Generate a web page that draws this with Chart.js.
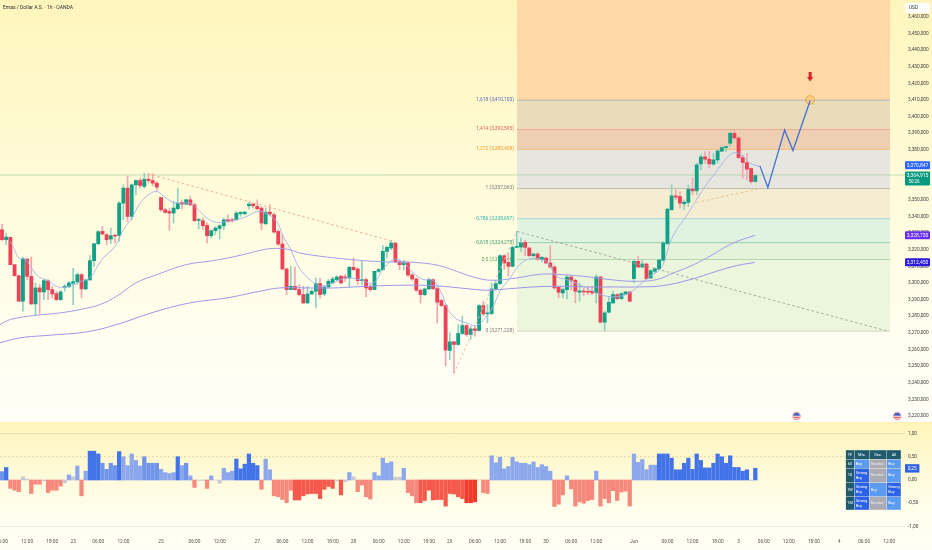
<!DOCTYPE html>
<html><head><meta charset="utf-8">
<style>
html,body{margin:0;padding:0;width:932px;height:550px;overflow:hidden;background:#fffff8}
#p{position:absolute;left:0;top:0;width:932px;height:421px;background:linear-gradient(#FFF5BC 0%,#FFFBD8 42%,#FFFEF0 80%,#FFFFF8 100%)}
#o{position:absolute;left:0;top:422px;width:932px;height:128px;background:linear-gradient(#FFF5BA 0%,#FFF8CE 25%,#FFFDEB 65%,#FFFFF6 100%)}
canvas{display:block}
</style>
<script src="https://cdn.jsdelivr.net/npm/chart.js@4"></script>
</head><body>
<div id="p"><canvas id="cp" width="932" height="421"></canvas></div>
<div id="o"><canvas id="co" width="932" height="128"></canvas></div>
<script>
const opens=[3332,3326,3327.4,3311,3304.4,3289,3314.4,3304,3287.4,3297,
3294.6,3301.4,3296,3293.6,3290,3297.4,3297.6,3299.8,3300.8,3305,
3296.4,3301.8,3313.4,3323.6,3331,3329,3326.4,3328.6,3328.6,3348,
3357,3340,3359,3361.6,3358,3362.4,3361.6,3360,3351.4,3344,
3343,3342,3344.6,3348.4,3347.4,3350,3347,3337.6,3337.4,3334.6,
3328.4,3331.4,3332.8,3334.4,3338,3338,3338,3341.6,3341.6,3346.4,
3347.4,3346,3345,3335.6,3342.6,3341,3331,3323.4,3308.4,3296,
3298,3296,3293,3288,3293.4,3295,3299.6,3293.4,3297.6,3300,
3302,3304,3303.6,3303,3309.4,3308.4,3301.4,3302,3297.6,3296,
3307,3308,3319,3321,3324,3312.6,3311,3312,3304.8,3302.4,
3295.6,3293,3296.4,3302,3296.6,3289.4,3286.4,3259.4,3264.6,3263,
3269.6,3274.4,3269,3272.4,3271.4,3286.4,3281.4,3281.6,3296.4,3299.6,
3316.4,3312.4,3310,3321.4,3321.6,3324.4,3321,3316.4,3317.4,3314,
3315,3312,3309.6,3297.4,3294,3296,3303.6,3301.6,3294.4,3295,
3295,3295,3294,3303.6,3276.4,3282.4,3288,3293,3290.6,3293.4,
3294.6,3302.6,3313,3309.6,3311.4,3303,3307,3308.4,3313.6,3323.6,
3344,3352.4,3352,3347.6,3348.4,3356.4,3355.4,3371.6,3375.8,3374.4,
3371.4,3374,3379.2,3381.4,3384,3390,3387.2,3375.4,3372.4,3368.8,3361];
const closes=[3326,3327.6,3311,3304.4,3289,3314.4,3304,3287.4,3297,3294.6,
3301.4,3296,3293.4,3290,3294.6,3298,3300,3300.8,3305,3296.4,
3301.8,3313.4,3323.6,3330.8,3329.4,3326,3328.4,3328.2,3348,3357,
3340,3359,3361.6,3358.6,3362.4,3361.6,3360,3357.6,3344,3342.4,
3342,3345,3348,3347.4,3350,3347,3337.4,3338,3334.4,3328.4,
3331.4,3333,3334.4,3338,3337,3337.4,3342,3342.4,3342.6,3347.4,
3346.4,3344.6,3336,3342.6,3341.4,3330.6,3323.4,3308.4,3296,3298,
3296,3293,3288,3293.4,3295,3299.6,3293,3297.6,3301,3302.4,
3303.6,3300,3303,3309.4,3308,3301.4,3302,3297,3296,3307,
3308,3319,3321.4,3324,3312.6,3311,3312.6,3304.8,3302.4,3295.6,
3293,3296.4,3302,3296.6,3288.4,3286.4,3259.6,3264.6,3263,3269.6,
3274.4,3269,3272.4,3271.4,3286.4,3281.4,3282,3296.4,3299.6,3316.4,
3312,3310,3321.4,3322,3324,3321.4,3316.4,3317.4,3314.4,3315.4,
3312,3309.6,3297,3294.4,3296,3303.6,3301.6,3295,3295.2,3294.6,
3294.4,3294,3303.6,3276.4,3282,3288.4,3293,3290.6,3293.6,3294.6,
3289,3313,3309.6,3311.4,3302.6,3307.4,3308.6,3313.8,3324,3344.4,
3352.4,3351.6,3348,3348.6,3356.4,3355.4,3371,3375.8,3374.4,3371.6,
3374,3379.4,3381.4,3381.6,3390,3387.2,3375.4,3372.4,3368.4,3361,3364.6];
const highs=[3335.4,3330,3327.6,3311,3304.4,3315.6,3314.4,3315.6,3300,3299,
3302.4,3302,3298,3295,3295.4,3299,3301,3308.8,3306,3305.6,
3302.4,3316.4,3323.6,3331.6,3334,3330,3333,3329,3349,3359,
3364.4,3359.6,3362,3363,3366,3365.6,3365.6,3361,3351.4,3345,
3345,3349,3357,3350,3350.4,3352,3348,3339,3339,3336,
3332,3334,3335,3339,3341,3339,3343,3343,3343,3348.4,
3348,3350,3346,3345,3347,3342,3332,3329,3309,3310,
3309.6,3299,3298,3298,3296,3303,3303,3298.4,3302,3303.6,
3304.4,3304.8,3305,3310,3315,3309,3313,3303,3299,3307,
3308.8,3322.4,3322.4,3325.6,3324.4,3314,3313.6,3313,3305.6,3303,
3296.4,3297,3303,3302.4,3297.6,3290.4,3287,3270,3265,3275,
3280,3275,3274,3274,3287,3289,3287,3300,3301,3317,
3317,3318,3322,3331,3327,3325.6,3321.6,3318,3318.4,3316,
3315.6,3322.4,3310.4,3298,3297,3304.4,3304.4,3302.4,3300,3297,
3297.6,3298,3305,3304,3283,3292,3295,3293.6,3294,3295,
3295,3314,3316,3314,3312,3308,3309,3314,3325,3345,
3359,3356,3355,3350,3359,3363,3372,3377,3379,3379,
3378,3380,3382,3382,3391,3392,3388,3377,3378,3369,3365];
const lows=[3325.6,3323,3311,3304,3289,3283,3302,3287,3280.4,3281.6,
3290,3290,3291,3289.4,3289.4,3295,3297.6,3287,3299,3291,
3296,3301.8,3310,3323,3329,3323,3323.6,3324,3325,3338,
3337,3338,3353,3357,3357,3360,3358.4,3355.6,3343,3342,
3331.6,3336,3344.4,3344.4,3347,3346.4,3337,3332.4,3332,3324,
3327,3329,3326.4,3332,3336.4,3336.4,3337.6,3340,3341,3344.4,
3345,3344,3332,3335,3340.4,3330,3322.4,3308,3293,3296,
3295.6,3292.4,3287.6,3287.6,3293,3285,3291,3292.4,3297,3299.6,
3301,3299.6,3301,3297.6,3307.6,3299,3299,3291.6,3295,3296,
3306.4,3307.6,3315,3320,3312.4,3308,3308,3304,3301.6,3295,
3288,3292.4,3296,3296,3276,3285.6,3250,3254,3245.6,3262.4,
3269,3268,3266,3268,3271,3280,3276,3281,3296,3299,
3308,3304,3309.6,3321,3319,3316.4,3315.6,3315.6,3313.6,3313,
3311.4,3309,3296.4,3291,3291,3290.4,3296,3288,3289,3292.4,
3293,3293,3288,3276,3271,3282,3287.6,3290,3290,3293,
3288.6,3300,3309,3309,3302,3302.6,3306,3308,3313,3323,
3343.6,3350,3345,3344,3346,3353,3353,3368,3372,3369,
3371,3372,3379,3379,3382,3386,3375,3363,3362,3360,3360.5];

const emaFastIdx=[2,3,4,5.5,7,9,11,13,15,17,19,21,22.6,24.2,27,29,31,33,35,37,38.5,41,43,45,46.5,49,51.3,53.7,56,58.5,61,63,65.6,67.2,69,71,73.6,76,79,82.3,85.5,88.7,91,93.5,95.9,98.3,100.7,103,105,106.6,108.6,111,113.4,115.8,117.4,119,121.4,123.7,126,128.5,130.5,132.5,134.9,138,141.2,144.5,147.7,150,152.4,154.8,157.2,158.4,159.6,161.2,163.2,165.2,168,170.7,173.1,175.1,177.1,178.7,181.1];
const emaFastVals=[3325,3320,3315,3314.4,3309,3303.4,3301.4,3298,3297.4,3299,3301,3303,3309,3315,3322,3332,3339,3348,3353,3355,3352.4,3348.4,3348,3348,3345,3339,3336.4,3337,3338,3340,3343,3342,3337,3328,3320,3309,3302,3298,3300,3303,3302,3300,3308,3314,3312.4,3306,3302,3301.6,3294,3284,3278.4,3276,3274.4,3280,3286,3295,3303,3311,3314.4,3314.4,3312,3304,3302,3299,3295,3292,3292,3294,3299,3304,3308,3314,3324,3332,3339,3347,3358,3367,3375,3378.4,3376,3372,3370];
const ema50Idx=[-0.5,2,7.5,13.9,19.4,23.4,27.4,32,37,44,50.5,56.9,62.4,65.6,68.8,71.2,77.6,85.5,92.7,98.3,104.2,108.6,113.4,117.4,122.9,128.5,132.5,138.9,145.3,150.8,156.4,160.4,164.4,168.4,174.7,179.9];
const ema50Vals=[3275,3278,3280.4,3282,3284.4,3287,3292,3300,3305,3311,3313.4,3316.6,3320,3320.8,3320,3318,3315.6,3313.6,3312.6,3312.4,3310.6,3307,3303,3301.6,3303,3305.2,3305.2,3304,3302,3301,3302,3306,3310,3315,3324,3328.6];
const ema100Idx=[-0.5,4.3,11.5,20.2,27.4,36.2,44.9,53.7,61.6,66.4,73.6,79.2,87.1,95,103,109.4,115.8,120.6,126.9,133.3,140.5,145.3,152.4,158,164.4,170.7,175.5,179.9];
const ema100Vals=[3264,3267,3268.6,3270.6,3275,3282.4,3288,3291,3295,3297,3297,3297,3298,3298.6,3298.4,3297,3295.6,3296.4,3297.6,3298,3297.6,3297.6,3297.6,3298.4,3302,3307,3310.4,3312.4];

const fibRatios=['1,618','1,414','1,272','1','0,786','0,618','0,5','0'];
const fibPrices=[3410.103,3392.595,3380.408,3357.063,3338.697,3324.278,3314.146,3271.228];
const fibStartIdx=123.06, fibEndIdx=212.2;
const projIdx=[181.1,183,187,189,193.1];
const projVals=[3370.4,3357.4,3392,3379.6,3409.6];
const trendAIdx=[34.9,93.4], trendAVals=[3365.6,3325];
const trendBIdx=[108,123.06], trendBVals=[3245.6,3331];
const trendCIdx=[123.06,211.7], trendCVals=[3331,3271];
const trendDIdx=[166,181.5], trendDVals=[3348.4,3357];
const lastPrice=3364.915;
const targetIdx=193.1, targetPrice=3410;
const priceTicks=[3220,3230,3240,3250,3260,3270,3280,3290,3300,3310,3320,3330,3340,3350,3360,3370,3380,3390,3400,3410,3420,3430,3440,3450,3460];
const tagPrices=[3370.847,3328.730,3312.450];
const tagTexts=['3,370,847','3,328,730','3,312,450'];
const oscVals=[.18,.27,-.18,-.22,-.25,.07,.02,-.29,-.09,-.09,
-.02,-.27,-.22,-.22,-.13,-.06,.11,.07,.3,-.34,
.19,.62,.62,.56,.36,.23,.36,.31,.61,.5,
.31,.56,.42,.3,.5,.36,.36,.36,.23,.16,
.14,.16,.5,.31,.36,.09,-.16,-.01,-.01,-.18,
.09,0,-.07,.25,.16,.19,.45,.24,.34,.56,
.36,.31,-.2,.45,.22,-.34,-.36,-.42,-.49,-.22,
-.43,-.43,-.34,-.3,-.29,-.29,-.4,-.2,-.14,-.18,
-.02,-.32,-.04,.16,.07,-.25,-.11,-.36,-.41,.16,
.09,.47,.36,.39,.06,.06,.25,-.27,-.34,-.49,
-.49,-.44,-.22,-.43,-.42,-.42,-.56,-.29,-.3,-.36,
-.4,-.49,-.49,-.47,0,-.27,-.29,.52,.37,.49,
.24,.29,.49,.39,.36,.36,.33,.39,.27,.33,
.29,.19,-.57,-.52,-.32,.09,-.19,-.56,-.47,-.5,
-.44,-.42,.19,-.56,-.4,-.49,-.23,-.44,-.26,-.24,
-.56,.56,.38,.44,.22,.32,.32,.56,.56,.56,
.47,.22,.22,.36,.47,.23,.56,.42,.26,.26,
.36,.56,.5,.36,.52,.27,.27,.19,.22,-.01,.25];
const oscShadeStarts=[0,1,2,21,24,28,29,34,38,42,43,44,45,56,62,70,82,100,111,114,157];
const oscShadeLevels=[2,3,1,3,2,3,1,2,1,3,1,2,1,3,1,2,1,2,3,1,3];
const oscTicks=[1,.5,0,-.5,-1];
const oscLevels=[1,.5,-1];
const oscLast=.25;
const timeTickIdx=[0,6,12,17,23,29,38,46,52,61,67,73,79,84,90,96,102,107,113,119,125,130,136,142,151,159,165,171,176,182,188,194,200,206,212];
const timeTickLabels=['06:00','12:00','18:00','23','06:00','12:00','25','06:00','12:00','27','06:00','12:00','18:00','28','06:00','12:00','18:00','29','06:00','12:00','18:00','30','06:00','12:00','Jun','06:00','12:00','18:00','3','06:00','12:00','18:00','4','06:00','12:00'];
const tableHead=['TF','Mtx.','Osc.','All'];
const tableRowLabels=['60','1D','1W','1M'];
const tableMtx=['Buy','Strong Buy','Strong Buy','Strong Buy'];
const tableOsc=['Neutral','Neutral','Buy','Neutral'];
const tableAll=['Buy','Buy','Strong Buy','Buy'];
const eventIdx=[190,214];

const X_MIN=-0.478,X_MAX=215.77;
const FONT='Roboto, "Liberation Sans", sans-serif';
const line=(xs,ys,o)=>Object.assign({type:'line',data:xs.map((x,i)=>({x,y:ys[i]})),pointRadius:0,borderWidth:1,fill:false,order:2},o);
const fixAxis=w=>s=>{s.width=w;s.paddingTop=0;s.paddingBottom=0;s.paddingLeft=0;s.paddingRight=0;};

const UP='#12A086',DOWN='#EC4256',UPW='#8FD3C0',DOWNW='#F4A6AE';
const wickData=highs.map((h,i)=>({x:i,y:[lows[i],h]}));
const bodyData=opens.map((o,i)=>({x:i,y:[o,closes[i]]}));
const isUp=i=>closes[i]>=opens[i];
const P_TOP=3470.13,P_BOT=3217;
const zoneColors=['#FFD8A8','#E9DDB9','#EFCFB2','#E6E6DE','#F5EDD2','#E0F3E0','#E4F3D9','#EBF6DC'];
const fibLine=['#7E8BC0','#E67A74','#F2A648','#9A9A8C','#62C6C6','#5DAF86','#7DB877','#A9A99C'];
const fibText=['#5468B8','#E4605C','#EE9C2C','#777','#35B5B5','#3E9E70','#5AA55A','#777'];
const fibBounds=[P_TOP].concat(fibPrices);
const fibSets=fibBounds.map((p,k)=>{
  const isLast=k===fibBounds.length-1;
  return {type:'line',data:[{x:fibStartIdx,y:p},{x:fibEndIdx,y:p}],pointRadius:0,
    borderWidth:k===0?0:1,borderColor:k===0?'transparent':fibLine[k-1],
    fill:isLast?false:'+1',backgroundColor:isLast?'transparent':zoneColors[k],order:9};
});

function rr(c,x,y,w,h,r){c.beginPath();c.roundRect(x,y,w,h,r);c.fill();}
const pricePlugin={id:'pricePlugin',
 beforeDatasetsDraw(ch){
  const c=ch.ctx,xs=ch.scales.x,ys=ch.scales.y;
  c.save();c.font='4.9px '+FONT;c.textAlign='right';c.textBaseline='middle';
  fibPrices.forEach((p,i)=>{
   c.fillStyle=fibText[i];
   const s=p.toFixed(3).replace('.',',');
   const t=fibRatios[i]+' ('+s.slice(0,1)+','+s.slice(1)+')';
   c.fillText(t,xs.getPixelForValue(fibStartIdx)-3,ys.getPixelForValue(p));
  });
  c.restore();
 },
 afterDraw(ch){
  const c=ch.ctx,xs=ch.scales.x,ys=ch.scales.y;
  c.save();
  c.font='5px '+FONT;c.fillStyle='#2e2e2e';c.textAlign='left';c.textBaseline='middle';
  c.fillText('Emas / Dollar A.S. · 1h · OANDA',3,7.5);
  c.fillStyle='#fff';rr(c,905,3,25,10,1.5);
  c.fillStyle='#333';c.font='4.8px '+FONT;c.fillText('USD',909,8);
  const colors=['#2962FF','#6A2CEE','#2A1ADD'];
  c.textAlign='center';
  tagPrices.forEach((p,i)=>{
   const y=ys.getPixelForValue(p);
   c.fillStyle=colors[i];rr(c,905,y-4,25,8,1);
   c.fillStyle='#fff';c.font='5px '+FONT;c.fillText(tagTexts[i],917.5,y+.3);
  });
  const yl=ys.getPixelForValue(lastPrice);
  c.fillStyle='#089981';rr(c,905,yl-3.5,25,14,1);
  c.fillStyle='#fff';c.font='5px '+FONT;c.fillText('3,364,915',917.5,yl+.3);
  c.font='4.5px '+FONT;c.fillText('50:26',914,yl+6.5);
  const ax=xs.getPixelForValue(targetIdx),ay=ys.getPixelForValue(targetPrice);
  c.fillStyle='#D5262C';c.beginPath();
  c.moveTo(ax-1.5,ay-28);c.lineTo(ax+1.5,ay-28);c.lineTo(ax+1.5,ay-23);c.lineTo(ax+3.2,ay-23);
  c.lineTo(ax,ay-18.5);c.lineTo(ax-3.2,ay-23);c.lineTo(ax-1.5,ay-23);c.closePath();c.fill();
  eventIdx.forEach(ei=>{
   const fx=xs.getPixelForValue(ei)+(ei===190?-0.6:-0.4),fy=416;
   c.fillStyle='#F4A0A8';c.beginPath();c.arc(fx,fy,4.3,0,Math.PI*2);c.fill();
   c.save();c.beginPath();c.arc(fx,fy,3.3,0,Math.PI*2);c.clip();
   c.fillStyle='#fff';c.fillRect(fx-4,fy-4,8,8);
   c.fillStyle='#E8505A';c.fillRect(fx-4,fy+.7,8,1.2);c.fillRect(fx-4,fy+2.6,8,1.2);
   c.fillStyle='#4466C8';c.fillRect(fx-4,fy-4,8,3.8);c.restore();
  });
  c.restore();
 }};

new Chart(document.getElementById('cp'),{
 type:'bar',
 data:{datasets:[
  line(trendAIdx,trendAVals,{borderColor:'#EDAE94',borderDash:[2.5,2.5],order:3}),
  line(trendBIdx,trendBVals,{borderColor:'#E8B8A0',borderDash:[2.5,2.5],order:3}),
  line(trendCIdx,trendCVals,{borderColor:'#A8A89C',borderDash:[2.5,2.5],order:3}),
  line(trendDIdx,trendDVals,{borderColor:'#E8C08C',borderDash:[2.5,2.5],order:3}),
  line([X_MIN,X_MAX],[lastPrice,lastPrice],{borderColor:'rgba(150,200,150,.6)',order:8}),
  line(emaFastIdx,emaFastVals,{borderColor:'#A3B2EA',borderWidth:.9,tension:.4,order:1}),
  line(ema50Idx,ema50Vals,{borderColor:'#A39BEA',borderWidth:1,tension:.4,order:1}),
  line(ema100Idx,ema100Vals,{borderColor:'#9D94EA',borderWidth:1,tension:.4,order:1}),
  line(projIdx,projVals,{borderColor:'#3F73D8',borderWidth:1.3,order:0}),
  {type:'line',data:[{x:targetIdx,y:targetPrice}],pointRadius:4.3,pointBackgroundColor:'rgba(255,190,90,.35)',pointBorderColor:'#F3A52B',pointBorderWidth:1,showLine:false,order:0},
  {type:'bar',data:bodyData,grouped:false,barThickness:3.2,minBarLength:1,borderWidth:0,backgroundColor:opens.map((o,i)=>isUp(i)?UP:DOWN),order:4},
  {type:'bar',data:wickData,grouped:false,barThickness:1,borderWidth:0,backgroundColor:opens.map((o,i)=>isUp(i)?UPW:DOWNW),order:5},
  ...fibSets
 ]},
 plugins:[pricePlugin],
 options:{responsive:false,animation:false,devicePixelRatio:1,
  layout:{padding:0,autoPadding:false},
  plugins:{legend:{display:false},tooltip:{enabled:false}},
  scales:{
   x:{type:'linear',min:X_MIN,max:X_MAX,offset:false,display:false},
   y:{position:'right',min:P_BOT,max:P_TOP,grid:{display:false,drawTicks:false},border:{display:false},
    afterBuildTicks:s=>{s.ticks=priceTicks.map(v=>({value:v}));},
    afterFit:fixAxis(27),
    ticks:{padding:3,autoSkip:false,color:'#444',font:{size:4.8,family:FONT},
     callback:v=>String(v).slice(0,1)+','+String(v).slice(1)+',000'}}
  }}
});

function shadeLevel(i){let l=1;oscShadeStarts.forEach((s,k)=>{if(i>=s)l=oscShadeLevels[k];});return l;}
const BLUES=['','#8CA7EC','#7094EA','#4273E8'],REDS=['','#F6897D','#F4594B','#F23A2C'];
const oscColors=oscVals.map((v,i)=>Math.abs(v)<.09?'#C9CAD3':(v>0?BLUES:REDS)[shadeLevel(i)]);
const oscPlugin={id:'oscPlugin',
 afterDraw(ch){
  const c=ch.ctx,ys=ch.scales.y;
  c.save();
  const yt=ys.getPixelForValue(oscLast);
  c.fillStyle='#2F62E0';c.fillRect(905,yt-4.2,14.4,8.4);
  c.fillStyle='#fff';c.font='4.8px '+FONT;c.textAlign='center';c.textBaseline='middle';
  c.fillText(oscLast.toFixed(2).replace('.',','),912.2,yt+.3);
  const colX=[845.7,854.3,869.3,886.7,901],rowY=[28,37.3,46.3,60.7,74.7,88];
  const paint=(col,row,txt,bg,fg)=>{
   const x=colX[col],y=rowY[row],w=colX[col+1]-x,h=rowY[row+1]-y;
   c.fillStyle=bg;c.fillRect(x+.2,y+.2,w-.4,h-.4);
   c.fillStyle=fg;c.font='3.9px '+FONT;c.textBaseline='middle';
   const left=col>0&&row>0;c.textAlign=left?'left':'center';
   const tx=left?x+1.5:x+w/2,parts=txt.split(' ');
   if(parts.length>1&&w<18&&h>9){c.fillText(parts[0],tx,y+h/2-2.4);c.fillText(parts[1],tx,y+h/2+2.4);}
   else c.fillText(txt,tx,y+h/2);
  };
  const bgFor=t=>t==='Strong Buy'?'#2B62E6':t==='Buy'?'#5C9BF2':'#ABABB6';
  tableHead.forEach((t,k)=>paint(k,0,t,'#1F5A6E','#fff'));
  tableRowLabels.forEach((t,r)=>{
   paint(0,r+1,t,'#1F5A6E','#fff');
   paint(1,r+1,tableMtx[r],bgFor(tableMtx[r]),'#fff');
   paint(2,r+1,tableOsc[r],bgFor(tableOsc[r]),'#eee');
   paint(3,r+1,tableAll[r],bgFor(tableAll[r]),'#fff');
  });
  c.restore();
 }};

new Chart(document.getElementById('co'),{
 type:'bar',
 data:{datasets:[
  line([X_MIN,X_MAX],[oscLevels[0],oscLevels[0]],{borderColor:'#E4DFB4',order:6}),
  line([X_MIN,X_MAX],[oscLevels[1],oscLevels[1]],{borderColor:'#DCD8A8',borderDash:[2,2],order:6}),
  line([X_MIN,X_MAX],[oscLevels[2],oscLevels[2]],{borderColor:'#EDEDE4',order:6}),
  {type:'bar',data:oscVals.map((v,i)=>({x:i,y:v})),grouped:false,barThickness:3.6,borderWidth:0,backgroundColor:oscColors,order:2}
 ]},
 plugins:[oscPlugin],
 options:{responsive:false,animation:false,devicePixelRatio:1,
  layout:{padding:0,autoPadding:false},
  plugins:{legend:{display:false},tooltip:{enabled:false}},
  scales:{
   x:{type:'linear',min:X_MIN,max:X_MAX,offset:false,grid:{display:false,drawTicks:false},border:{display:false},
    afterBuildTicks:s=>{s.ticks=timeTickIdx.map(v=>({value:v}));},
    afterFit:s=>{s.height=18;s.paddingLeft=0;s.paddingRight=0;},
    ticks:{padding:7,autoSkip:false,maxRotation:0,color:'#555',font:{size:4.8,family:FONT},
     callback:v=>timeTickLabels[timeTickIdx.indexOf(v)]}},
   y:{position:'right',min:-1.118,max:1.247,grid:{display:false,drawTicks:false},border:{display:false},
    afterBuildTicks:s=>{s.ticks=oscTicks.map(v=>({value:v}));},
    afterFit:fixAxis(27),
    ticks:{padding:3,autoSkip:false,color:'#444',font:{size:4.8,family:FONT},
     callback:v=>v.toFixed(2).replace('.',',')}}
  }}
});
</script>
</body></html>
